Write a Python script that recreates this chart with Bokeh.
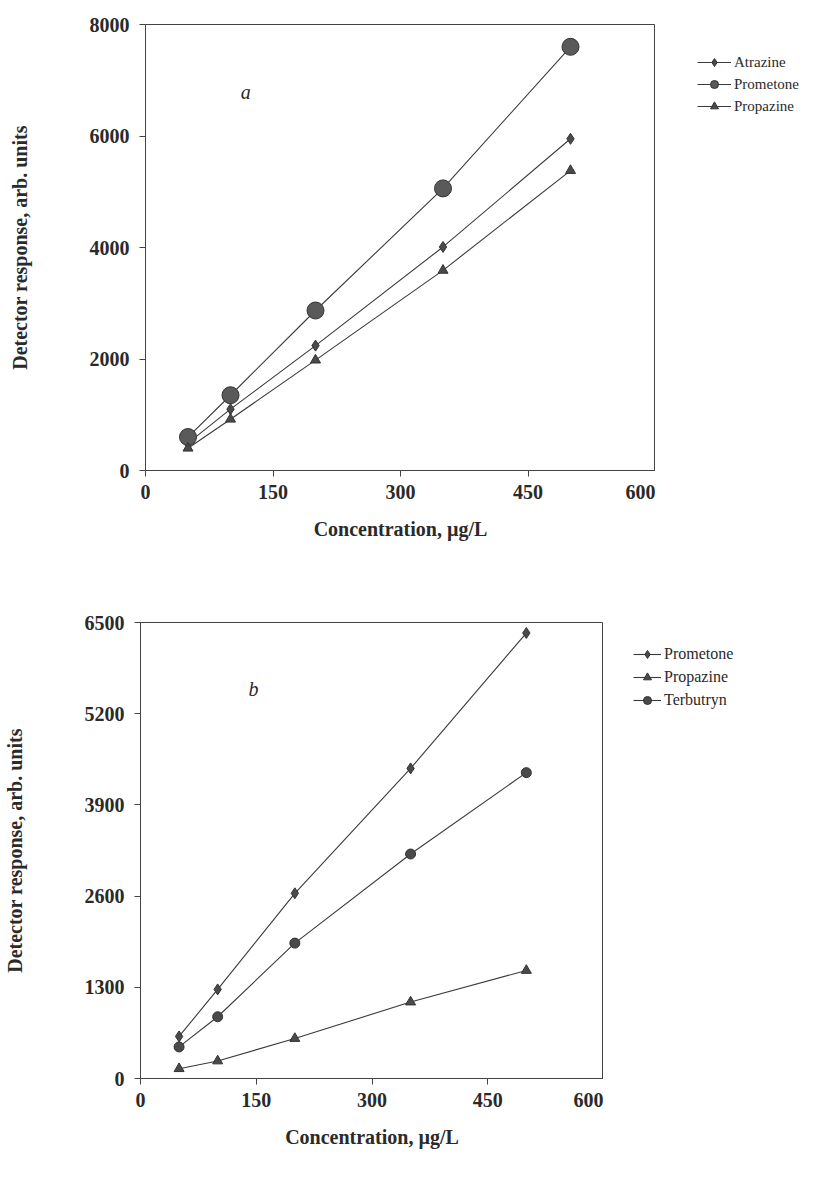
from bokeh.plotting import figure
from bokeh.layouts import column, row
from bokeh.models import Legend, LegendItem, FixedTicker, Label
from bokeh.embed import file_html
from bokeh.resources import INLINE

# ---- data ----
conc = [50, 100, 200, 350, 500]

a_atrazine = [490, 1100, 2240, 4010, 5950]
a_prometone = [600, 1350, 2870, 5060, 7600]
a_propazine = [400, 920, 1980, 3590, 5380]

b_prometone = [600, 1270, 2640, 4420, 6350]
b_propazine = [140, 250, 570, 1090, 1540]
b_terbutryn = [450, 880, 1930, 3200, 4360]

x_ticks = [0, 150, 300, 450, 600]
a_y_ticks = [0, 2000, 4000, 6000, 8000]
b_y_ticks = [0, 1300, 2600, 3900, 5200, 6500]

SERIF = "Liberation Serif"
LINE = "#3a3a3a"
MARK = "#4a4a4a"
EDGE = "#333333"


def style(p, yticks):
    p.outline_line_color = "#444444"
    p.outline_line_width = 1
    p.xgrid.visible = False
    p.ygrid.visible = False
    for ax in (p.xaxis[0], p.yaxis[0]):
        ax.axis_line_color = "#444444"
        ax.major_tick_line_color = "#444444"
        ax.minor_tick_line_color = None
        ax.major_tick_in = 0
        ax.major_tick_out = 6
        ax.major_label_text_font = SERIF
        ax.major_label_text_font_style = "bold"
        ax.major_label_text_font_size = "20px"
        ax.major_label_text_color = "#2a2a2a"
        ax.axis_label_text_font = SERIF
        ax.axis_label_text_font_style = "bold"
        ax.axis_label_text_font_size = "20px"
        ax.axis_label_text_color = "#2a2a2a"
    p.xaxis[0].ticker = FixedTicker(ticks=x_ticks)
    p.yaxis[0].ticker = FixedTicker(ticks=yticks)
    p.xaxis[0].major_label_standoff = 8
    p.yaxis[0].major_label_standoff = 10
    p.xaxis[0].axis_label_standoff = 16
    p.yaxis[0].axis_label_standoff = 56
    p.xaxis[0].axis_label = "Concentration, µg/L"
    p.yaxis[0].axis_label = "Detector response, arb. units"


def draw_series(f, ys, marker, size, fill):
    ln = f.line(conc, ys, line_color=LINE, line_width=1.1)
    sc = f.scatter(conc, ys, marker=marker, size=size,
                   fill_color=fill, line_color=EDGE)
    return [ln, sc]


def legend_fig(width, height, left, top, bottom, margin, gw, specs, size, spacing):
    """Side figure holding only the legend; its series lie outside its view."""
    f = figure(width=width, height=height, x_range=(0, 1), y_range=(0, 1),
               output_backend="svg", toolbar_location=None,
               x_axis_location=None, y_axis_location=None,
               min_border_left=left, min_border_top=top,
               min_border_right=0, min_border_bottom=bottom)
    f.outline_line_color = None
    f.xgrid.visible = False
    f.ygrid.visible = False
    items = []
    for label, ys, marker, msize, fill in specs:
        items.append(LegendItem(label=label,
                                renderers=draw_series(f, ys, marker, msize, fill)))
    leg = Legend(items=items, location="top_left", glyph_width=gw, glyph_height=20,
                 spacing=spacing, label_standoff=3, padding=0, margin=margin,
                 label_text_font=SERIF, label_text_font_size=size,
                 label_text_color="#2a2a2a",
                 border_line_alpha=0, background_fill_alpha=0)
    f.add_layout(leg, "center")
    return f


# ---- chart a ----
pa = figure(frame_width=510, frame_height=446, x_range=(0, 600), y_range=(0, 8000),
            output_backend="svg", toolbar_location=None,
            min_border_left=145, min_border_right=0,
            min_border_top=24, min_border_bottom=120)
style(pa, a_y_ticks)

draw_series(pa, a_atrazine, "diamond", 11, MARK)
draw_series(pa, a_prometone, "circle", 17, "#5a5a5a")
draw_series(pa, a_propazine, "triangle", 10, MARK)

pa.add_layout(Label(x=112, y=6600, text="a", text_font=SERIF,
                    text_font_style="italic", text_font_size="20px",
                    text_color="#2a2a2a"))

la = legend_fig(167, 590, 14, 24, 120, 28, 34, [
    ("Atrazine", a_atrazine, "diamond", 9, MARK),
    ("Prometone", a_prometone, "circle", 13, "#5a5a5a"),
    ("Propazine", a_propazine, "triangle", 9, MARK),
], "15px", 2)

# ---- chart b ----
pb = figure(frame_width=463, frame_height=456, x_range=(0, 600), y_range=(0, 6500),
            output_backend="svg", toolbar_location=None,
            min_border_left=137, min_border_right=0,
            min_border_top=32, min_border_bottom=108)
style(pb, b_y_ticks)

draw_series(pb, b_prometone, "diamond", 11, MARK)
draw_series(pb, b_propazine, "triangle", 10, MARK)
draw_series(pb, b_terbutryn, "circle", 10, MARK)

pb.add_layout(Label(x=140, y=5400, text="b", text_font=SERIF,
                    text_font_style="italic", text_font_size="20px",
                    text_color="#2a2a2a"))

lb = legend_fig(222, 596, 8, 32, 108, 22, 28, [
    ("Prometone", b_prometone, "diamond", 9, MARK),
    ("Propazine", b_propazine, "triangle", 9, MARK),
    ("Terbutryn", b_terbutryn, "circle", 9, MARK),
], "16px", 3)

layout = column(row(pa, la, spacing=0), row(pb, lb, spacing=0), spacing=0)
open("out.html", "w").write(file_html(layout, INLINE))
